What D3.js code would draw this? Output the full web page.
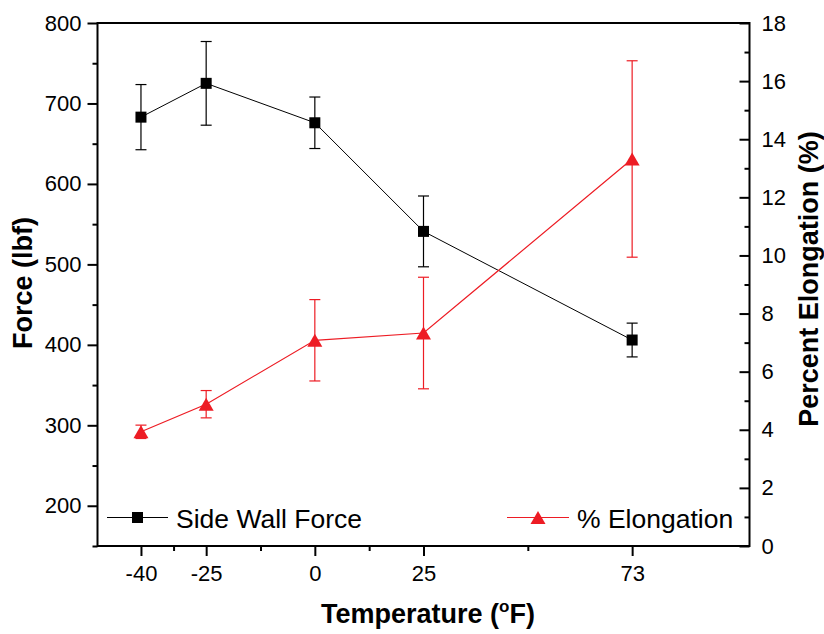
<!DOCTYPE html>
<html>
<head>
<meta charset="utf-8">
<script src="https://cdn.jsdelivr.net/npm/d3@7"></script>
<style>
  html, body { margin: 0; padding: 0; background: #fff; }
  svg { display: block; font-family: "Liberation Sans", Arial, sans-serif; }
</style>
</head>
<body>
<svg id="chart" width="824" height="634"></svg>
<script>
// ---- data ----
const temperatures = [-40, -25, 0, 25, 73];
const forceMean = [683, 725, 676, 541, 406];
const forceErr = [40.5, 52, 32, 44, 21];
const elongMean = [3.93, 4.88, 7.08, 7.33, 13.32];
const elongErr = [0.23, 0.47, 1.4, 1.92, 3.38];
const xTickValues = [-40, -25, 0, 25, 73];
const xMinorTicks = [-32.5, -12.5, 12.5, 49];
const forceTicks = [200, 300, 400, 500, 600, 700, 800];
const forceMinorTicks = [150, 250, 350, 450, 550, 650, 750];
const elongTicks = [0, 2, 4, 6, 8, 10, 12, 14, 16, 18];
const elongMinorTicks = [1, 3, 5, 7, 9, 11, 13, 15, 17];
const seriesNames = ["Side Wall Force", "% Elongation"];

const RED = "#ED1C24";
const svg = d3.select("#chart");

const L = 97.5, R = 749.5, T = 23, B = 546;
const x = d3.scaleLinear().domain([-50, 100]).range([L, R]);
const yF = d3.scaleLinear().domain([150, 800]).range([B, T]);
const yE = d3.scaleLinear().domain([0, 18]).range([B, T]);

function styleAxis(g) {
  g.selectAll(".domain").remove();
  g.selectAll(".tick line").attr("stroke", "#000").attr("stroke-width", 2);
  g.selectAll(".tick text").attr("font-size", 22).attr("fill", "#000")
    .attr("font-family", "'Liberation Sans', Arial, sans-serif");
}
const fmt = d => String(d);

// bottom axis
svg.append("g").attr("transform", `translate(0,${B})`)
  .call(d3.axisBottom(x).tickValues(xTickValues).tickFormat(fmt).tickSize(10).tickPadding(9).tickSizeOuter(0))
  .call(styleAxis);
svg.append("g").attr("transform", `translate(0,${B})`)
  .call(d3.axisBottom(x).tickValues(xMinorTicks).tickSize(5).tickFormat("").tickSizeOuter(0))
  .call(styleAxis);

// left axis
svg.append("g").attr("transform", `translate(${L},0)`)
  .call(d3.axisLeft(yF).tickValues(forceTicks).tickFormat(fmt).tickSize(10).tickPadding(6).tickSizeOuter(0))
  .call(styleAxis);
svg.append("g").attr("transform", `translate(${L},0)`)
  .call(d3.axisLeft(yF).tickValues(forceMinorTicks).tickSize(5).tickFormat("").tickSizeOuter(0))
  .call(styleAxis);

// right axis (ticks inward)
svg.append("g").attr("transform", `translate(${R},0)`)
  .call(d3.axisRight(yE).tickValues(elongTicks).tickFormat(fmt).tickSize(-10).tickPadding(12).tickSizeOuter(0))
  .call(styleAxis);
svg.append("g").attr("transform", `translate(${R},0)`)
  .call(d3.axisRight(yE).tickValues(elongMinorTicks).tickSize(-5).tickFormat("").tickSizeOuter(0))
  .call(styleAxis);

// frame
svg.append("rect").attr("x", L).attr("y", T).attr("width", R - L).attr("height", B - T)
  .attr("fill", "none").attr("stroke", "#000").attr("stroke-width", 2);

// data
const forceData = temperatures.map((t, i) => ({ t, v: forceMean[i], e: forceErr[i] }));
const elongData = temperatures.map((t, i) => ({ t, v: elongMean[i], e: elongErr[i] }));

function drawErr(data, y, color) {
  const g = svg.append("g").attr("stroke", color).attr("stroke-width", 1.2).attr("fill", "none");
  data.forEach(d => {
    const cx = x(d.t), y1 = y(d.v + d.e), y2 = y(d.v - d.e);
    g.append("line").attr("x1", cx).attr("x2", cx).attr("y1", y1).attr("y2", y2);
    g.append("line").attr("x1", cx - 5.5).attr("x2", cx + 5.5).attr("y1", y1).attr("y2", y1);
    g.append("line").attr("x1", cx - 5.5).attr("x2", cx + 5.5).attr("y1", y2).attr("y2", y2);
  });
}

const triPath = "M0,-6.5L7.5,6.5L-7.5,6.5Z";

// force series
drawErr(forceData, yF, "#000");
svg.append("path").datum(forceData)
  .attr("d", d3.line().x(d => x(d.t)).y(d => yF(d.v)))
  .attr("fill", "none").attr("stroke", "#000").attr("stroke-width", 1);
svg.append("g").selectAll("rect").data(forceData).join("rect")
  .attr("x", d => x(d.t) - 5.5).attr("y", d => yF(d.v) - 5.5)
  .attr("width", 11).attr("height", 11).attr("fill", "#000");

// elongation series
drawErr(elongData, yE, RED);
svg.append("path").datum(elongData)
  .attr("d", d3.line().x(d => x(d.t)).y(d => yE(d.v)))
  .attr("fill", "none").attr("stroke", RED).attr("stroke-width", 1.2);
svg.append("g").selectAll("path").data(elongData).join("path")
  .attr("d", triPath)
  .attr("transform", d => `translate(${x(d.t)},${yE(d.v)})`)
  .attr("fill", RED);

// legend
const lg = svg.append("g");
lg.append("line").attr("x1", 107).attr("x2", 168).attr("y1", 517.5).attr("y2", 517.5)
  .attr("stroke", "#000").attr("stroke-width", 1);
lg.append("rect").attr("x", 137.5 - 5.5).attr("y", 517.5 - 5.5).attr("width", 11).attr("height", 11).attr("fill", "#000");
lg.append("text").attr("x", 176).attr("y", 527.5).attr("font-size", 26.5).attr("fill", "#000").text(seriesNames[0]);

lg.append("line").attr("x1", 507).attr("x2", 569).attr("y1", 517.5).attr("y2", 517.5)
  .attr("stroke", RED).attr("stroke-width", 1.2);
lg.append("path").attr("d", triPath).attr("transform", "translate(538,517.5)").attr("fill", RED);
lg.append("text").attr("x", 577).attr("y", 527.5).attr("font-size", 26.5).attr("fill", "#000").text(seriesNames[1]);

// axis titles
svg.append("text")
  .attr("transform", "translate(23,283) rotate(-90)")
  .attr("text-anchor", "middle").attr("dy", "0.35em")
  .attr("font-size", 27).attr("font-weight", "bold").text("Force (lbf)");

svg.append("text")
  .attr("transform", "translate(809,279) rotate(-90)")
  .attr("text-anchor", "middle").attr("dy", "0.35em")
  .attr("font-size", 27).attr("font-weight", "bold").text("Percent Elongation (%)");

const xt = svg.append("text").attr("x", 428).attr("y", 623)
  .attr("text-anchor", "middle").attr("font-size", 27).attr("font-weight", "bold");
xt.append("tspan").text("Temperature (");
xt.append("tspan").attr("font-size", 17).attr("dy", -11).text("o");
xt.append("tspan").attr("dy", 11).text("F)");
</script>
</body>
</html>
